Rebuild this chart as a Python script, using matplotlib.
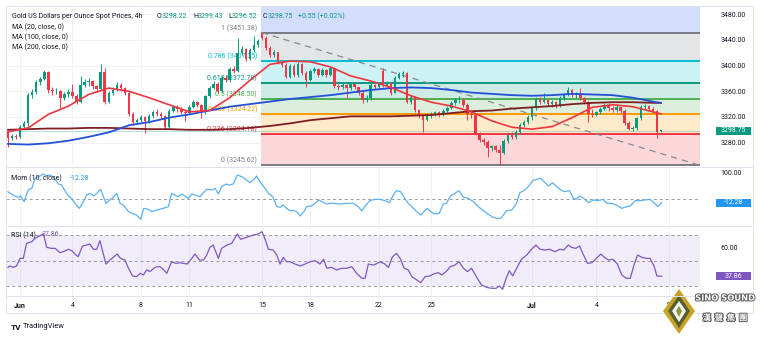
import matplotlib
matplotlib.use("Agg")
import matplotlib.pyplot as plt
from matplotlib.patches import Rectangle, Polygon
from matplotlib.lines import Line2D
from matplotlib.transforms import blended_transform_factory
import matplotlib.patheffects as pe

# ---------------- data ----------------
first_open = 3296
closes = [3288, 3291, 3289, 3304, 3310, 3354, 3359, 3374, 3379, 3390,
          3362, 3360, 3361, 3350, 3356, 3359, 3353, 3343, 3370, 3374,
          3376, 3368, 3364, 3390, 3343, 3358, 3362, 3370, 3365, 3358,
          3324, 3312, 3316, 3320, 3314, 3322, 3328, 3325, 3321, 3305,
          3330, 3336, 3332, 3328, 3326, 3336, 3343, 3338, 3327, 3352,
          3365, 3372, 3360, 3381, 3377, 3395, 3392, 3420, 3426, 3411,
          3424, 3432, 3438, 3443, 3428, 3416, 3421, 3406, 3401, 3383,
          3400, 3385, 3403, 3389, 3378, 3392, 3395, 3386, 3393, 3386,
          3396, 3368, 3366, 3370, 3365, 3371, 3367, 3358, 3346, 3350,
          3370, 3367, 3371, 3370, 3373, 3358, 3381, 3387, 3388, 3344,
          3351, 3331, 3321, 3316, 3323, 3324, 3327, 3324, 3330, 3334,
          3342, 3346, 3347, 3339, 3324, 3323, 3295, 3284, 3281, 3271,
          3274, 3268, 3264, 3282, 3292, 3289, 3296, 3307, 3312, 3320,
          3334, 3348, 3343, 3346, 3340, 3343, 3337, 3350, 3354, 3362,
          3354, 3356, 3349, 3343, 3325, 3323, 3327, 3333, 3339, 3334,
          3331, 3335, 3330, 3311, 3301, 3303, 3318, 3335, 3337, 3333,
          3330, 3297, 3298.75]
highs = [3298, 3294, 3294, 3308, 3314, 3357, 3364, 3377, 3383, 3393,
         3391, 3366, 3365, 3362, 3359, 3364, 3372, 3356, 3384, 3379,
         3380, 3378, 3370, 3402, 3397, 3361, 3366, 3374, 3373, 3367,
         3361, 3328, 3319, 3323, 3322, 3325, 3331, 3332, 3328, 3323,
         3333, 3339, 3338, 3335, 3331, 3339, 3346, 3345, 3340, 3355,
         3368, 3376, 3374, 3384, 3385, 3398, 3399, 3443, 3430, 3428,
         3427, 3446, 3441, 3451.38, 3446, 3431, 3424, 3422, 3409, 3404,
         3403, 3402, 3406, 3404, 3391, 3395, 3398, 3397, 3396, 3395,
         3400, 3398, 3371, 3373, 3372, 3374, 3373, 3367, 3360, 3355,
         3373, 3372, 3374, 3397, 3376, 3375, 3384, 3390, 3392, 3390,
         3355, 3353, 3333, 3323, 3326, 3328, 3330, 3330, 3333, 3337,
         3345, 3349, 3352, 3350, 3342, 3328, 3326, 3297, 3287, 3284,
         3277, 3276, 3277, 3285, 3295, 3296, 3299, 3310, 3316, 3323,
         3336, 3351, 3351, 3357, 3348, 3346, 3345, 3353, 3357, 3366,
         3364, 3359, 3365, 3351, 3345, 3332, 3330, 3336, 3342, 3341,
         3337, 3338, 3336, 3332, 3313, 3306, 3320, 3338, 3340, 3339,
         3335, 3331, 3299.43]
lows = [3273, 3284, 3285, 3287, 3302, 3306, 3350, 3356, 3370, 3378,
        3358, 3355, 3356, 3334, 3347, 3351, 3349, 3340, 3341, 3366,
        3369, 3364, 3359, 3362, 3340, 3341, 3355, 3360, 3361, 3354,
        3321, 3308, 3309, 3312, 3295, 3311, 3319, 3321, 3317, 3302,
        3303, 3328, 3328, 3325, 3314, 3324, 3334, 3335, 3318, 3325,
        3350, 3363, 3357, 3358, 3374, 3375, 3389, 3390, 3417, 3407,
        3409, 3421, 3429, 3440, 3425, 3413, 3414, 3403, 3398, 3380,
        3381, 3382, 3383, 3385, 3367, 3376, 3388, 3383, 3384, 3382,
        3384, 3365, 3362, 3364, 3349, 3362, 3364, 3355, 3341, 3344,
        3346, 3364, 3365, 3367, 3366, 3355, 3357, 3379, 3383, 3341,
        3340, 3328, 3318, 3297, 3313, 3319, 3321, 3320, 3321, 3328,
        3332, 3339, 3342, 3336, 3315, 3319, 3292, 3281, 3277, 3258,
        3267, 3265, 3245.62, 3262, 3280, 3285, 3286, 3294, 3305, 3309,
        3316, 3331, 3340, 3341, 3337, 3336, 3334, 3335, 3347, 3352,
        3351, 3349, 3346, 3340, 3312, 3320, 3321, 3325, 3331, 3330,
        3328, 3328, 3326, 3308, 3299, 3298, 3300, 3316, 3332, 3330,
        3326, 3287, 3296.52]
gap_opens = {63: 3451.0, 93: 3392.0, 162: 3298.22}

ma_idx = [0, 5, 10, 15, 20, 25, 30, 35, 40, 45, 50, 55, 60, 65, 70, 75, 80,
          85, 90, 95, 100, 105, 110, 115, 120, 125, 130, 135, 140, 145, 150,
          155, 160, 162]
ma20 = [3297, 3303, 3324, 3337, 3355, 3365, 3360, 3350, 3339, 3328, 3330,
        3350, 3377, 3402, 3407, 3406, 3398, 3384, 3376, 3366, 3353, 3343,
        3337, 3328, 3314, 3304, 3301, 3305, 3319, 3335, 3339, 3336, 3328, 3325]
ma100 = [3278, 3277, 3279, 3283, 3289, 3296, 3307, 3312, 3319, 3324, 3330,
         3336, 3340, 3344, 3348, 3351, 3354, 3358, 3362, 3365, 3366, 3365,
         3362, 3358, 3356, 3354, 3353, 3354, 3356, 3355, 3354, 3350, 3344, 3342]
ma200 = [3300, 3301, 3302, 3302, 3303, 3303, 3302, 3301, 3301, 3300, 3300,
         3301, 3303, 3306, 3310, 3315, 3318, 3321, 3321, 3321, 3322, 3323,
         3326, 3329, 3330, 3333, 3335, 3337, 3340, 3342, 3343, 3343, 3342, 3342]

fib_ratios = [0, 0.236, 0.382, 0.5, 0.618, 0.786, 1, 1.618]
fib_hi_idx, fib_lo_idx = 63, 122
trend_x = [63, 172]
trend_y = [3451.38, 3244.0]

mom_x = [0.0, 0.5, 1.7, 2.6, 3.1, 4.0, 5.0, 5.9, 6.7, 7.9, 8.8, 9.6, 10.4, 11.2,
         12.5, 13.3, 14.1, 15.0, 15.8, 16.6, 17.7, 18.7, 19.5, 20.3, 21.3, 22.2,
         23.0, 24.3, 25.3, 26.1, 27.0, 27.8, 28.6, 29.9, 30.7, 31.9, 32.9, 33.7,
         34.8, 35.6, 36.9, 38.5, 39.8, 40.6, 41.4, 42.3, 43.1, 43.9, 44.7, 45.6,
         46.4, 47.6, 49.3, 50.5, 51.4, 52.2, 53.0, 54.1, 54.9, 55.9, 56.9, 58.0,
         59.2, 60.0, 60.9, 61.7, 62.5, 63.8, 64.6, 65.7, 66.7, 67.5, 68.3, 69.1,
         70.0, 71.0, 71.6, 72.5, 73.4, 74.1, 75.3, 76.2, 77.2, 78.3, 79.1, 79.9,
         80.7, 82.4, 84.0, 85.7, 86.9, 87.8, 88.6, 89.8, 91.1, 92.3, 93.5, 94.6,
         95.6, 96.4, 97.4, 98.3, 99.3, 100.6, 101.4, 102.4, 103.2, 104.0, 104.9,
         105.9, 107.0, 108.0, 108.8, 109.8, 110.9, 111.9, 113.0, 114.2, 115.5,
         116.7, 117.9, 119.2, 120.4, 121.3, 122.3, 122.9, 123.7, 125.0, 126.2,
         127.0, 128.0, 129.1, 130.2, 131.2, 132.2, 133.0, 134.1, 135.1, 136.2,
         137.4, 138.2, 139.3, 140.3, 141.1, 141.8, 142.8, 144.0, 145.3, 146.5,
         147.6, 148.6, 149.8, 150.9, 152.3, 153.5, 154.4, 155.6, 156.8, 158.1,
         159.2, 160.3, 161.2, 162.2]
mom_v = [28.6, 22.4, 12.4, 7.4, 12.4, -8.9, 34.9, 41.0, 78.6, 87.4, 94.9, 87.4,
         91.0, 84.9, 57.4, 53.6, 32.4, 12.4, 3.6, -15.1, -33.9, -8.9, 16.1, 22.4,
         12.4, 24.9, 37.4, -15.1, -2.6, 7.4, 22.4, -15.1, -21.4, -46.4, -52.6,
         -58.9, -75.1, -33.9, -37.6, -46.4, -40.1, -33.9, -27.6, 22.4, 16.1, 9.9,
         19.9, 12.4, 3.6, 19.9, 16.1, 9.9, 37.4, 34.9, 41.0, 19.9, 47.4, 57.4,
         53.6, 57.4, 91.0, 84.9, 72.4, 62.4, 72.4, 87.4, 66.1, 41.0, 22.4, 9.9,
         -27.6, -30.1, -21.4, -33.9, -42.6, -42.6, -46.4, -62.6, -46.4, -27.6,
         -25.1, -15.1, -2.6, -12.6, -17.6, -15.1, -15.1, -17.6, -15.1, -15.1,
         -27.6, -43.9, -25.1, -5.1, 0.0, -0.1, -5.1, -12.6, 16.1, 32.4, 28.6,
         7.4, -15.1, -33.9, -46.4, -58.9, -46.4, -33.9, -46.4, -55.1, -52.6,
         -17.6, -15.1, 12.4, 22.4, 32.4, 7.4, 3.6, -8.9, -27.6, -42.6, -56.4,
         -67.6, -71.4, -71.4, -58.9, -42.6, -40.1, -15.1, 24.9, 32.4, 47.4, 69.9,
         74.9, 78.6, 66.1, 49.9, 62.4, 47.4, 32.4, 28.6, 32.4, 3.6, -0.1, 12.4,
         3.6, -12.6, -2.6, -5.1, -0.1, -15.1, -15.1, -21.4, -33.9, -27.6, -25.1,
         -5.1, -5.1, -2.6, -0.1, -12.6, -27.6, -12.28]

rsi_x = [0.0, 0.5, 1.3, 2.1, 3.0, 3.8, 4.6, 5.9, 6.7, 7.8, 8.8, 9.6, 10.8, 11.7,
         12.9, 13.7, 15.0, 15.8, 16.6, 17.4, 18.5, 19.5, 20.3, 21.2, 22.0, 22.8,
         24.3, 25.3, 26.1, 27.1, 27.9, 29.0, 29.9, 30.9, 31.9, 32.8, 33.6, 34.4,
         35.2, 36.2, 36.9, 37.7, 38.5, 39.4, 40.6, 41.7, 42.7, 43.5, 44.5, 45.6,
         46.4, 47.5, 48.5, 49.3, 50.1, 50.9, 52.2, 53.0, 54.3, 55.5, 56.9, 57.7,
         59.2, 60.9, 62.1, 63.0, 63.8, 64.6, 65.8, 66.7, 67.5, 68.3, 69.1, 70.0,
         70.8, 72.5, 73.7, 75.0, 76.2, 77.4, 78.3, 79.1, 80.3, 81.5, 82.8, 84.0,
         85.3, 86.5, 87.8, 88.6, 89.4, 90.7, 92.3, 93.3, 94.4, 95.4, 96.4, 97.3,
         98.3, 99.3, 100.2, 101.4, 102.4, 103.5, 104.7, 105.5, 106.8, 107.6,
         108.7, 109.7, 110.9, 111.9, 113.0, 114.0, 115.0, 116.3, 117.5, 118.8,
         120.0, 121.1, 121.9, 122.7, 123.6, 124.4, 125.2, 126.4, 127.4, 128.7,
         129.9, 131.0, 132.0, 133.2, 134.4, 135.7, 136.9, 137.9, 139.0, 139.8,
         140.9, 141.8, 142.8, 143.8, 144.9, 146.0, 147.1, 148.0, 149.0, 150.1,
         151.2, 152.3, 153.4, 154.4, 155.4, 156.2, 157.3, 158.5, 159.3, 160.3,
         161.0, 162.2]
rsi_v = [44.8, 45.9, 44.8, 45.9, 51.8, 51.8, 63.5, 64.8, 67.4, 69.3, 70.8, 60.4,
         59.6, 59.6, 56.3, 57.0, 58.9, 57.8, 55.2, 53.1, 61.5, 62.2, 63.0, 58.9,
         58.9, 65.6, 47.4, 50.5, 52.6, 55.2, 51.8, 50.5, 44.1, 38.1, 37.6, 40.2,
         38.9, 42.8, 41.5, 44.1, 45.3, 45.3, 43.3, 40.2, 49.2, 47.9, 48.5, 47.9,
         47.4, 51.8, 55.2, 50.5, 50.5, 54.4, 60.4, 62.2, 51.8, 59.6, 62.2, 63.5,
         70.8, 66.7, 68.2, 70.0, 70.8, 72.6, 66.7, 58.9, 58.3, 54.4, 47.4, 52.6,
         49.2, 49.2, 47.9, 45.9, 47.4, 49.2, 50.0, 47.4, 51.1, 44.1, 44.8, 42.8,
         44.1, 44.1, 45.3, 40.2, 36.3, 36.3, 47.4, 46.6, 49.0, 47.9, 44.8, 53.1,
         55.7, 51.8, 44.1, 42.8, 37.6, 35.0, 32.9, 37.6, 38.1, 39.6, 40.7, 38.9,
         41.5, 45.3, 46.6, 49.2, 44.1, 41.5, 44.1, 37.0, 31.1, 29.2, 28.5, 28.5,
         30.3, 27.7, 36.3, 42.2, 38.1, 45.3, 51.1, 54.4, 58.9, 62.2, 58.9, 58.3,
         58.9, 57.0, 58.9, 58.3, 62.2, 60.4, 59.6, 61.5, 54.4, 47.9, 48.5, 51.8,
         55.2, 52.6, 50.5, 51.1, 47.4, 38.9, 36.3, 36.3, 47.4, 54.4, 52.6, 51.8,
         51.8, 45.9, 38.1, 37.86]

price_ticks = [3280, 3320, 3360, 3400, 3440, 3480]
time_idx = [3, 16, 33, 45, 63, 75, 92, 105, 130, 146, 164]
time_lbl = ['Jun', '4', '8', '11', '15', '18', '22', '25', 'Jul', '4', '9']
hdr_o, hdr_h, hdr_l, hdr_c = 3298.22, 3299.43, 3296.52, 3298.75
hdr_chg, hdr_pct = 0.55, 0.02
mom_last = -12.28
rsi_last = 37.86

# ---------------- styling ----------------
UP, DN = '#089981', '#f23645'
TXT = '#131722'
FS = 5.0
plt.rcParams['font.family'] = ['Roboto', 'DejaVu Sans']

W, H = 760, 337
fig = plt.figure(figsize=(7.6, 3.37), dpi=100)
fig.patch.set_facecolor('white')


def fx(x):
    return x / W


def fy(y):
    return 1 - y / H


ax = fig.add_axes([fx(6), fy(166), fx(694), 160 / H])
axm = fig.add_axes([fx(6), fy(225), fx(694), 58 / H], sharex=ax)
axr = fig.add_axes([fx(6), fy(296), fx(694), 71 / H], sharex=ax)
for a in (ax, axm, axr):
    for s in a.spines.values():
        s.set_visible(False)
    a.set_facecolor('none')
    a.yaxis.tick_right()
    a.tick_params(axis='both', length=0, labelsize=FS, labelcolor=TXT)
    for t in time_idx:
        a.axvline(t, color='#f0f2f6', lw=0.7, zorder=0)

ax.set_xlim(-0.5, 171.7)
ax.set_ylim(3243.6, 3492.9)
axm.set_ylim(-96.4, 121.1)
axr.set_ylim(22.5, 77.8)

# grid
for p in price_ticks:
    ax.axhline(p, color='#f0f2f6', lw=0.7, zorder=0)

# fib retracement
fib_hi = highs[fib_hi_idx]
fib_lo = lows[fib_lo_idx]
fib_p = [fib_lo + r * (fib_hi - fib_lo) for r in fib_ratios]
fib_line_c = ['#787b86', '#f23645', '#ff9800', '#4caf50', '#089981', '#00bcd4', '#787b86', '#2962ff']
fib_fill_c = ['#fcd7da', '#ffeacc', '#dbefdc', '#ceebe6', '#ccf2f6', '#e4e5e7', '#d3defd']
fx0, fx1 = fib_hi_idx - 0.2, 171.7
for i in range(len(fib_p) - 1):
    ax.fill_between([fx0, fx1], fib_p[i], fib_p[i + 1], color=fib_fill_c[i], lw=0, zorder=1)
for i in range(len(fib_p) - 1):
    ax.plot([fx0, fx1], [fib_p[i], fib_p[i]], color=fib_line_c[i], lw=1.4, zorder=2,
            solid_capstyle='butt')
    ax.text(fx0 - 1.0, fib_p[i] + 1.0, f"{fib_ratios[i]:g} ({fib_p[i]:.2f})",
            color=fib_line_c[i], fontsize=FS, ha='right', va='bottom', zorder=2)

# last price line
ax.axhline(closes[-1], color='#089981', alpha=0.35, lw=0.6, zorder=2)

# trend line
ax.plot(trend_x, trend_y, color='#868993', lw=0.9, ls=(0, (5, 4)), zorder=3)

# candles
opens = [first_open] + closes[:-1]
for k, v in gap_opens.items():
    opens[k] = v
idx = list(range(len(closes)))
cols = [UP if c >= o else DN for o, c in zip(opens, closes)]
ax.vlines(idx, lows, highs, colors=cols, lw=0.7, zorder=4)
bottoms = [min(o, c) for o, c in zip(opens, closes)]
heights = [max(abs(c - o), 0.9) for o, c in zip(opens, closes)]
ax.bar(idx, heights, bottom=bottoms, width=0.62, color=cols, lw=0, zorder=5)

# moving averages
ax.plot(ma_idx, ma200, color='#7f1d24', lw=1.3, zorder=6)
ax.plot(ma_idx, ma100, color='#2350d8', lw=1.3, zorder=6)
ax.plot(ma_idx, ma20, color='#f0353f', lw=1.2, zorder=6)

# momentum
axm.axhline(0, color='#9598a1', lw=0.7, ls=(0, (3, 3)), zorder=1)
axm.plot(mom_x, mom_v, color='#5cb1f2', lw=0.9, zorder=3)

# RSI
axr.axhspan(30, 70, color='#7e57c2', alpha=0.1, lw=0, zorder=0)
for lv in (70, 50, 30):
    axr.axhline(lv, color='#9598a1', lw=0.7, ls=(0, (3, 3)), zorder=1)
axr.plot(rsi_x, rsi_v, color='#7e57c2', lw=0.9, zorder=3)

# axes tick labels
ax.set_yticks(price_ticks)
ax.set_yticklabels([f"{p:.2f}" for p in price_ticks])
axm.set_yticks([100])
axm.set_yticklabels(['100.00'])
axr.set_yticks([60])
axr.set_yticklabels(['60.00'])
for a in (ax, axm, axr):
    a.tick_params(axis='y', pad=14.8)
ax.tick_params(axis='x', labelbottom=False)
axm.tick_params(axis='x', labelbottom=False)
axr.set_xticks(time_idx)
axr.set_xticklabels(time_lbl)
axr.tick_params(axis='x', pad=4.5)
for t in axr.get_xticklabels():
    if t.get_text() in ('Jun', 'Jul'):
        t.set_fontweight('bold')


def value_box(a, val, txt, color, h):
    tr = blended_transform_factory(a.transAxes, a.transData)
    a.add_patch(Rectangle((1.0231, val - h / 2), 0.0504, h, transform=tr,
                          facecolor=color, edgecolor='none', clip_on=False, zorder=10))
    a.text(1.0483, val, txt, transform=tr, color='white', fontsize=FS,
           ha='center', va='center', zorder=11, clip_on=False)


value_box(ax, closes[-1], f"{closes[-1]:.2f}", UP, 12.5)
value_box(axm, mom_last, f"{mom_last:.2f}", '#2196f3', 30)
value_box(axr, rsi_last, f"{rsi_last:.2f}", '#7e57c2', 6.2)


# ---------------- header / legends ----------------
def put(x, y, s, color=TXT, **kw):
    fig.text(fx(x), fy(y), s, color=color, fontsize=kw.pop('fs', FS), ha=kw.pop('ha', 'left'),
             va='center', **kw)


put(12, 16, 'Gold US Dollars per Ounce Spot Prices, 4h')
put(157, 16, 'O')
put(162, 16, f"{hdr_o:.2f}", UP)
put(193, 16, 'H')
put(197.5, 16, f"{hdr_h:.2f}", UP)
put(228, 16, 'L')
put(232, 16, f"{hdr_l:.2f}", UP)
put(263, 16, 'C')
put(267.7, 16, f"{hdr_c:.2f}", UP)
put(298, 16, f"+{hdr_chg:.2f} (+{hdr_pct:.2f}%)", UP)
put(12, 27.5, 'MA (20, close, 0)')
put(12, 37.5, 'MA (100, close, 0)')
put(12, 47.5, 'MA (200, close, 0)')
put(11, 178, 'Mom (10, close)')
put(70, 178, f"{mom_last:.2f}", '#2196f3')
put(11, 235, 'RSI (14)')
put(42, 235, f"{rsi_last:.2f}", '#7e57c2')

# separators / frame
sep = '#e0e3eb'
for yy in (166.5, 225.5, 296):
    fig.add_artist(Line2D([fx(6), fx(753)], [fy(yy), fy(yy)], color=sep, lw=0.7))
fig.add_artist(Rectangle((fx(6), fy(313)), fx(747), 307 / H, transform=fig.transFigure,
                         facecolor='none', edgecolor=sep, lw=0.7))

# TradingView logo
put(11, 327, 'TV', fs=6, fontweight='bold')
put(23, 327, 'TradingView', fs=5.4)


# SINO SOUND logo
def poly(pts, fc):
    fig.add_artist(Polygon([(fx(x), fy(y)) for x, y in pts], closed=True,
                           transform=fig.transFigure, facecolor=fc, edgecolor='none'))


poly([(679, 289), (695, 311), (679, 334), (663, 311)], '#c9a227')
poly([(679, 295), (690, 311), (679, 328), (668, 311)], '#56602c')
poly([(679, 301), (686, 311), (679, 322), (672, 311)], '#f4f4f4')
poly([(679, 306), (682, 311), (679, 317), (676, 311)], '#8a9a3a')
stroke = [pe.withStroke(linewidth=1.4, foreground='#5a5a5a')]
fig.text(fx(725), fy(298), 'SINO SOUND', color='white', fontsize=6.0, fontweight='bold',
         ha='center', va='center', path_effects=stroke, family=['DejaVu Sans'])
fig.text(fx(725), fy(318), '漢  聲  集  團', color='white', fontsize=6.0, fontweight='bold',
         ha='center', va='center', path_effects=stroke,
         family=['Noto Sans CJK TC', 'DejaVu Sans'])

fig.savefig('out.png', dpi=100, facecolor='white')
